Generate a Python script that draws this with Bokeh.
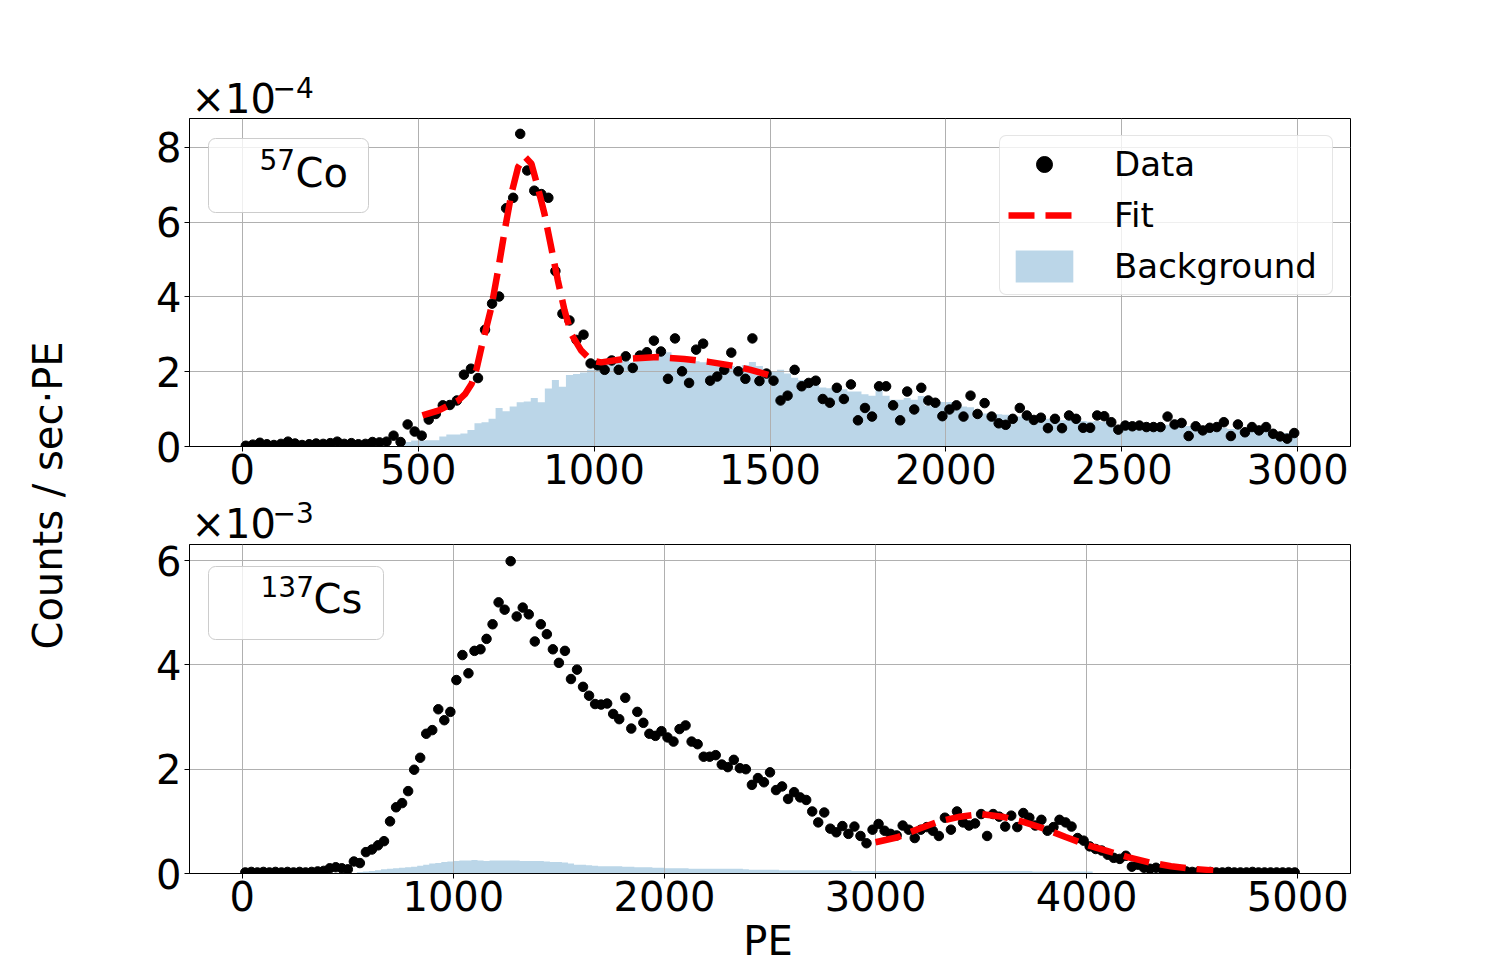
import numpy as np
from bokeh.plotting import figure
from bokeh.models import (Range1d, FixedTicker, Label, Legend, LegendItem,
                          BoxAnnotation)
from bokeh.layouts import row, column
from bokeh.embed import file_html
from bokeh.resources import INLINE

FONT = "DejaVu Sans"

# ---------------- 57Co panel (values in units of 1e-4 counts/sec/PE) ----------------
co_bin_edges = np.arange(0, 3001, 20)
co_data = [
    0.02, 0.05, 0.10, 0.06, 0.04, 0.07, 0.13, 0.08, 0.04, 0.06,
    0.08, 0.07, 0.09, 0.13, 0.07, 0.09, 0.06, 0.07, 0.12, 0.11,
    0.13,
    0.29, 0.12, 0.59, 0.40, 0.29, 0.72, 0.87, 1.10, 1.11, 1.23,
    1.92, 2.08, 1.83, 3.12, 3.82, 4.01, 6.37, 6.65, 8.36, 7.38,
    6.84, 6.75, 6.65, 4.69, 3.55, 3.37, 2.85, 2.99, 2.22, 2.17,
    2.05, 2.30, 2.05, 2.41, 2.10, 2.43, 2.52, 2.83, 2.54, 1.81,
    2.89, 2.01, 1.70, 2.59, 2.75, 1.76, 1.87, 2.05, 2.51, 2.01,
    1.81, 2.89, 1.75, 1.95, 1.76, 1.23, 1.36, 2.05, 1.61, 1.70,
    1.76, 1.27, 1.17, 1.57, 1.27, 1.66, 0.70, 1.03, 0.80, 1.61,
    1.61, 1.10, 0.70, 1.47, 0.99, 1.57, 1.23, 1.17, 0.81, 0.99,
    1.10, 0.80, 1.36, 0.87, 1.16, 0.80, 0.62, 0.58, 0.74, 1.03,
    0.83, 0.71, 0.77, 0.49, 0.74, 0.49, 0.83, 0.74, 0.50, 0.50,
    0.83, 0.81, 0.65, 0.45, 0.56, 0.54, 0.56, 0.52, 0.52, 0.52,
    0.80, 0.59, 0.63, 0.28, 0.54, 0.43, 0.50, 0.52, 0.65, 0.28,
    0.59, 0.38, 0.52, 0.43, 0.52, 0.34, 0.27, 0.21, 0.36,
]
co_background = [0.0] * 23 + [
    0.12, 0.16, 0.16, 0.17, 0.17, 0.27, 0.32, 0.32, 0.35, 0.44,
    0.62, 0.65, 0.74, 1.03, 0.94, 1.07, 1.18, 1.20, 1.30, 1.18,
    1.55, 1.78, 1.60, 1.91, 1.94, 1.98, 2.05,
    2.14, 2.20, 2.30, 2.38, 2.30, 2.25, 2.35, 2.40, 2.42, 2.45,
    2.52, 2.35, 2.28, 2.30, 2.28, 2.25, 2.22, 2.18, 2.20, 2.15,
    2.12, 2.18, 2.26, 2.15, 2.05, 2.02, 2.05, 1.95, 1.84, 1.78,
    1.73, 1.70, 1.58, 1.56, 1.53, 1.53, 1.47, 1.47, 1.40, 1.36,
    1.54, 1.36, 1.25, 1.25, 1.30, 1.25, 1.35, 1.09, 1.15, 1.19,
    1.19, 1.07, 1.07, 1.05, 0.87, 0.88, 0.88, 0.86, 0.85, 0.83,
    0.80, 0.78, 0.76, 0.74, 0.74, 0.72, 0.70, 0.72, 0.70, 0.68,
    0.66, 0.68, 0.66, 0.62, 0.56, 0.55, 0.56, 0.58, 0.58, 0.60,
    0.60, 0.58, 0.55, 0.54, 0.55, 0.52, 0.50, 0.50, 0.48, 0.50,
    0.47, 0.46, 0.46, 0.44, 0.45, 0.42, 0.40, 0.38, 0.36, 0.34,
]
co_fit_pe = [512, 557, 614, 633, 652, 666, 680, 708, 727, 746, 765, 784, 803,
             822, 840, 859, 878, 897, 916, 935, 963, 992, 1020, 1086, 1180,
             1256, 1322, 1388, 1445, 1500]
co_fit = [0.83, 0.96, 1.23, 1.40, 1.68, 2.08, 2.66, 3.72, 4.71, 5.78, 6.76,
          7.47, 7.75, 7.56, 6.93, 6.22, 5.33, 4.44, 3.64, 3.01, 2.57, 2.30,
          2.25, 2.34, 2.39, 2.34, 2.27, 2.17, 2.05, 1.90]
co_xticks = [0, 500, 1000, 1500, 2000, 2500, 3000]
co_yticks = [0, 2, 4, 6, 8]

# ---------------- 137Cs panel (values in units of 1e-3 counts/sec/PE) ----------------
cs_bin_edges = np.linspace(0, 5000, 176)
cs_data = [
    0.02, 0.03, 0.02, 0.03, 0.02, 0.03, 0.02, 0.03, 0.02, 0.03,
    0.02, 0.03, 0.04, 0.05,
    0.10, 0.12, 0.10, 0.08, 0.23, 0.20, 0.41, 0.46, 0.54, 0.62,
    1.00, 1.27, 1.35, 1.58, 1.99, 2.22, 2.68, 2.75, 3.15, 2.94,
    3.10, 3.71, 4.19, 3.84, 4.27, 4.30, 4.50, 4.78, 5.20, 5.06,
    5.99, 4.93, 5.10, 4.97, 4.45, 4.78, 4.59, 4.30, 4.04, 4.27,
    3.73, 3.91, 3.58, 3.41, 3.25, 3.24, 3.26, 3.06, 2.96, 3.37,
    2.78, 3.10, 2.89, 2.68, 2.64, 2.73, 2.61, 2.53, 2.77, 2.84,
    2.53, 2.48, 2.24, 2.24, 2.27, 2.09, 2.04, 2.18, 2.02, 2.00,
    1.70, 1.83, 1.75, 1.94, 1.60, 1.67, 1.43, 1.56, 1.46, 1.41,
    1.19, 0.98, 1.17, 0.86, 0.79, 0.91, 0.76, 0.90, 0.72, 0.58,
    0.84, 0.95, 0.82, 0.76, 0.73, 0.92, 0.84, 0.68, 0.84, 0.89,
    0.82, 0.72, 1.07, 0.84, 1.19, 0.98, 0.92, 0.96, 1.14, 0.72,
    1.14, 1.09, 0.90, 1.11, 0.89, 1.16, 1.07, 0.92, 1.03, 0.82,
    0.89, 1.03, 0.98, 0.90, 0.68, 0.63, 0.52, 0.47, 0.44, 0.36,
    0.30, 0.28, 0.34, 0.13, 0.17, 0.11, 0.09, 0.11, 0.09, 0.07,
    0.07, 0.06,
    0.04, 0.03, 0.03, 0.02, 0.03, 0.02, 0.02, 0.03, 0.02, 0.02,
    0.02, 0.03, 0.02, 0.02, 0.02, 0.02, 0.02, 0.02, 0.02,
]
cs_background = [0.0] * 19 + [
    0.03, 0.04, 0.05, 0.06, 0.08, 0.09, 0.10, 0.11, 0.12, 0.13,
    0.15, 0.17, 0.19, 0.20, 0.22, 0.23, 0.24, 0.25, 0.25, 0.26,
    0.25, 0.24, 0.25, 0.25, 0.25, 0.25, 0.25, 0.24, 0.24, 0.24,
    0.24, 0.23, 0.22, 0.22, 0.21, 0.19, 0.17, 0.17, 0.16, 0.15,
    0.14, 0.14, 0.14, 0.14, 0.13, 0.13, 0.12, 0.12, 0.12, 0.11,
    0.11, 0.10, 0.10, 0.10, 0.10, 0.09, 0.09, 0.09, 0.09, 0.09,
    0.09, 0.09, 0.09, 0.09, 0.08, 0.07, 0.07, 0.07, 0.07, 0.07,
] + [0.06] * 12 + [0.05] * 30 + [0.04] * 10 + [0.0] * 34
cs_fit_pe = [3000, 3100, 3200, 3300, 3400, 3500, 3600, 3700, 3800, 3900,
             4000, 4100, 4200, 4300, 4400, 4500, 4600]
cs_fit = [0.60, 0.69, 0.85, 1.00, 1.09, 1.14, 1.09, 0.99, 0.86, 0.70,
          0.55, 0.43, 0.31, 0.21, 0.14, 0.09, 0.06]
cs_xticks = [0, 1000, 2000, 3000, 4000, 5000]
cs_yticks = [0, 2, 4, 6]

# ---------------- layout constants (pixels) ----------------
YFIG_W = 108
BORDER_L, BORDER_R = 81, 30
FRAME_W = 1161
# strips overlap their neighbours (negative margins) so that every text box
# lies wholly inside its own canvas; all canvases are transparent.
S1_H, S1_OV = 130, 24
P1_TOP, P1_FH, P1_BOT, P1_OV = 12, 328, 58, 10
S2_H, S2_OV = 56, 10
P2_TOP, P2_FH, P2_BOT, P2_OV = 4, 329, 54, 12
S3_H = 57
TOTAL_H = (S1_H - S1_OV + P1_TOP + P1_FH + P1_BOT - P1_OV + S2_H - S2_OV
           + P2_TOP + P2_FH + P2_BOT - P2_OV + S3_H)
BASE_40, BASE_28 = 15, 11   # alphabetic-baseline correction of the renderer


def step_outline(edges, vals):
    edges = np.asarray(edges, dtype=float)
    vals = np.asarray(vals, dtype=float)
    xs = np.concatenate([[edges[0]], np.repeat(edges, 2)[1:-1], [edges[-1]]])
    ys = np.concatenate([[0.0], np.repeat(vals, 2), [0.0]])
    return xs, ys


def text_strip(height, overlap):
    s = figure(frame_width=FRAME_W, frame_height=height, x_range=Range1d(0, FRAME_W),
               y_range=Range1d(0, height), output_backend="svg", toolbar_location=None,
               x_axis_location=None, y_axis_location=None,
               min_border_left=BORDER_L, min_border_right=BORDER_R,
               min_border_top=0, min_border_bottom=0,
               margin=(0, 0, -overlap, 0))
    s.outline_line_color = None
    s.background_fill_alpha = 0
    s.border_fill_alpha = 0
    s.grid.visible = False
    return s


def strip_text(s, text, x, y, size, align="left"):
    s.add_layout(Label(x=x, y=y, text=text, text_font=FONT, text_font_size=size,
                       text_color="black", text_align=align,
                       text_baseline="alphabetic"))


def make_panel(fh, top, bottom, overlap, xr, yr, xticks, yticks):
    p = figure(frame_width=FRAME_W, frame_height=fh, x_range=Range1d(*xr),
               y_range=Range1d(*yr), output_backend="svg", toolbar_location=None,
               min_border_left=BORDER_L, min_border_right=BORDER_R,
               min_border_top=top, min_border_bottom=bottom,
               margin=(0, 0, -overlap, 0))
    p.background_fill_alpha = 0
    p.border_fill_alpha = 0
    p.outline_line_color = "black"
    p.outline_line_width = 1
    p.xaxis.ticker = FixedTicker(ticks=xticks)
    p.yaxis.ticker = FixedTicker(ticks=yticks)
    p.xgrid.ticker = FixedTicker(ticks=xticks)
    p.ygrid.ticker = FixedTicker(ticks=yticks)
    for g in p.grid:
        g.grid_line_color = "#b0b0b0"
        g.grid_line_width = 1
    for ax in p.axis:
        ax.axis_line_color = "black"
        ax.major_tick_line_color = "black"
        ax.major_tick_in = 0
        ax.major_tick_out = 5
        ax.minor_tick_line_color = None
        ax.major_label_text_font = FONT
        ax.major_label_text_font_size = "40px"
        ax.major_label_text_color = "black"
    p.xaxis.major_label_standoff = 2
    p.yaxis.major_label_standoff = 3
    return p


def corner_label(p, text, dx, dy, size):
    p.add_layout(Label(x=p.x_range.start, y=p.y_range.end, x_offset=dx, y_offset=dy,
                       text=text, text_font=FONT, text_font_size=size,
                       text_color="black", text_align="left",
                       text_baseline="alphabetic"))


def corner_box(p, fh, x0, x1, y0, y1):
    sx = FRAME_W / (p.x_range.end - p.x_range.start)
    sy = fh / (p.y_range.end - p.y_range.start)
    kw = dict(left=p.x_range.start + x0 / sx, right=p.x_range.start + x1 / sx,
              top=p.y_range.end - y0 / sy, bottom=p.y_range.end - y1 / sy,
              fill_color="white", fill_alpha=0.8, line_color="#cccccc",
              line_width=1, line_alpha=1.0)
    if "border_radius" in BoxAnnotation.properties():
        kw["border_radius"] = 7
    p.add_layout(BoxAnnotation(**kw))


# ---------------- top strip (x10^-4 multiplier); strip spans page y 0..130 ----------------
s1 = text_strip(S1_H, S1_OV)
strip_text(s1, "×10", 2, (S1_H - 113) + BASE_40, "40px")
strip_text(s1, "\u22124", 83, (S1_H - 98) + BASE_28, "28px")

# ---------------- top panel ----------------
p1 = make_panel(P1_FH, P1_TOP, P1_BOT, P1_OV, (-150, 3150), (0, 8.77), co_xticks, co_yticks)
bx, by = step_outline(co_bin_edges, co_background)
r_bg = p1.patch(bx, by, fill_color="#1f77b4", fill_alpha=0.3, line_color=None, level="image")
co_centers = 0.5 * (co_bin_edges[:-1] + co_bin_edges[1:])
r_data = p1.scatter(co_centers[:len(co_data)], co_data, size=9.5, color="black")
r_fit = p1.line(co_fit_pe, co_fit, line_color="red", line_width=6.5, line_dash="26 11")

corner_box(p1, P1_FH, 19, 179, 20, 94)
corner_label(p1, "57", 70, -52 + BASE_28, "28px")
corner_label(p1, "Co", 106, -69 + BASE_40, "40px")

legend = Legend(items=[LegendItem(label="Data", renderers=[r_data]),
                       LegendItem(label="Fit", renderers=[r_fit]),
                       LegendItem(label="Background", renderers=[r_bg])],
                location="top_right")
legend.margin = 17
legend.padding = 8
legend.spacing = 11
legend.glyph_width = 72
legend.glyph_height = 40
legend.label_height = 40
legend.label_width = 210
legend.label_standoff = 34
legend.label_text_font = FONT
legend.label_text_font_size = "34px"
legend.label_text_color = "black"
legend.background_fill_color = "white"
legend.background_fill_alpha = 0.8
legend.border_line_color = "#cccccc"
legend.border_line_width = 1
if "border_radius" in Legend.properties():
    legend.border_radius = 7
p1.add_layout(legend)

# ---------------- middle strip (x10^-3 multiplier); page y 494..550 ----------------
s2 = text_strip(S2_H, S2_OV)
strip_text(s2, "×10", 2, (550 - 538) + BASE_40, "40px")
strip_text(s2, "\u22123", 83, (550 - 523) + BASE_28, "28px")

# ---------------- bottom panel ----------------
p2 = make_panel(P2_FH, P2_TOP, P2_BOT, P2_OV, (-250, 5250), (0, 6.31), cs_xticks, cs_yticks)
bx2, by2 = step_outline(cs_bin_edges, cs_background)
p2.patch(bx2, by2, fill_color="#1f77b4", fill_alpha=0.3, line_color=None, level="image")
cs_centers = 0.5 * (cs_bin_edges[:-1] + cs_bin_edges[1:])
p2.scatter(cs_centers[:len(cs_data)], cs_data, size=9.5, color="black")
p2.line(cs_fit_pe, cs_fit, line_color="red", line_width=6.5, line_dash="26 11")

corner_box(p2, P2_FH, 19, 194, 22, 95)
corner_label(p2, "137", 71, -53 + BASE_28, "28px")
corner_label(p2, "Cs", 124, -69 + BASE_40, "40px")

# ---------------- bottom strip (x-axis title); page y 915..972 ----------------
s3 = text_strip(S3_H, 0)
strip_text(s3, "PE", FRAME_W / 2 - 2, (972 - 955) + BASE_40, "40px", align="center")

# ---------------- shared y label ----------------
yfig = figure(width=YFIG_W, height=TOTAL_H, x_range=Range1d(0, YFIG_W),
              y_range=Range1d(0, TOTAL_H), output_backend="svg", toolbar_location=None,
              x_axis_location=None, y_axis_location=None, min_border=0)
yfig.outline_line_color = None
yfig.background_fill_alpha = 0
yfig.border_fill_alpha = 0
yfig.grid.visible = False
yfig.add_layout(Label(x=47, y=TOTAL_H - 495, text="Counts / sec\u00b7PE", angle=np.pi / 2,
                      text_font=FONT, text_font_size="40px", text_color="black",
                      text_align="center", text_baseline="middle"))

layout = row(yfig, column(s1, p1, s2, p2, s3))
open("out.html", "w").write(file_html(layout, INLINE))
